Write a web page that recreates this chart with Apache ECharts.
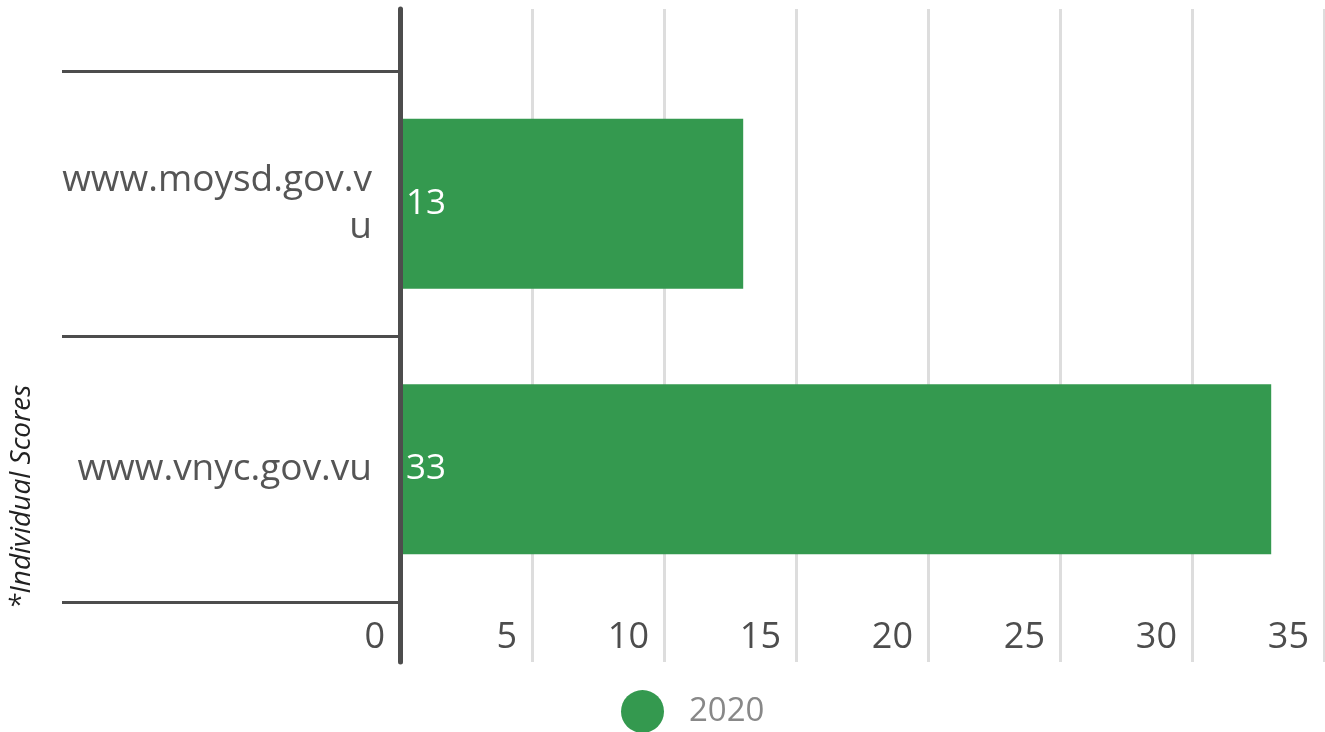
<!DOCTYPE html>
<html>
<head>
<meta charset="utf-8">
<script src="https://cdn.jsdelivr.net/npm/echarts@6/dist/echarts.min.js"></script>
<style>
  html, body { margin: 0; padding: 0; background: #fff; }
  #chart { width: 1325px; height: 732px; }
</style>
</head>
<body>
<div id="chart"></div>
<script>
// data
var categories = ['www.moysd.gov.vu', 'www.vnyc.gov.vu'];
var scores2020 = [13, 33];
var seriesName = '2020';
var axisTitle = '*Individual Scores';
var xMin = 0, xMax = 35, xStep = 5;

var font = 'Open Sans';
var chart = echarts.init(document.getElementById('chart'));

// category labels wrap after 15 characters, like the original
function wrapLabel(v) {
  return v.length > 15 ? v.slice(0, 15) + '\n' + v.slice(15) : v;
}

var option = {
  animation: false,
  textStyle: { fontFamily: font },
  grid: [
    // bars + category bands
    { left: 400, right: 1, top: 71, bottom: 130 },
    // taller grid only for the grid lines and the axis line
    { left: 400, right: 1, top: 9, bottom: 70 }
  ],
  legend: {
    data: [seriesName],
    left: 621,
    top: 685,
    icon: 'circle',
    itemWidth: 43,
    itemHeight: 43,
    textStyle: { fontSize: 33, color: '#888', fontFamily: font, padding: [0, 0, 0, 17] }
  },
  xAxis: [
    {
      gridIndex: 0, type: 'value', min: xMin, max: xMax, interval: xStep,
      axisLine: { show: false }, axisTick: { show: false }, splitLine: { show: false },
      axisLabel: {
        fontSize: 36, color: '#4d4d4d', fontFamily: font,
        align: 'right', padding: [0, 15, 0, 0], margin: 18
      }
    },
    {
      gridIndex: 1, type: 'value', min: xMin, max: xMax, interval: xStep,
      axisLine: { show: false }, axisTick: { show: false }, axisLabel: { show: false },
      splitLine: { show: true, lineStyle: { color: '#dddddd', width: 3 } }
    }
  ],
  yAxis: [
    {
      gridIndex: 0, type: 'category', data: categories, inverse: true,
      axisLine: { show: false },
      axisTick: { show: true, length: 338, lineStyle: { color: '#4d4d4d', width: 3 } },
      axisLabel: {
        fontSize: 37, color: '#555', fontFamily: font, margin: 28,
        lineHeight: 47, align: 'right', formatter: wrapLabel
      }
    },
    {
      gridIndex: 1, type: 'value', z: 5,
      axisLine: { show: true, lineStyle: { color: '#4d4d4d', width: 5 } },
      axisTick: { show: false }, axisLabel: { show: false }, splitLine: { show: false }
    }
  ],
  graphic: [
    {
      type: 'text',
      x: 22, y: 497, rotation: Math.PI / 2,
      style: {
        text: axisTitle, fontFamily: font, fontStyle: 'italic', fontSize: 28,
        fill: '#222', align: 'center', verticalAlign: 'middle'
      }
    }
  ],
  series: [
    {
      name: seriesName,
      type: 'bar',
      xAxisIndex: 0, yAxisIndex: 0,
      data: scores2020,
      barWidth: 170,
      itemStyle: { color: '#34994f' },
      label: {
        show: true, position: 'insideLeft', distance: 6,
        color: '#fff', fontSize: 35, fontFamily: font
      }
    }
  ]
};

// nudge legend to match the original position
option.legend.left = 616;
option.legend.textStyle.padding = [0, 0, 0, 20];

chart.setOption(option);
</script>
</body>
</html>
